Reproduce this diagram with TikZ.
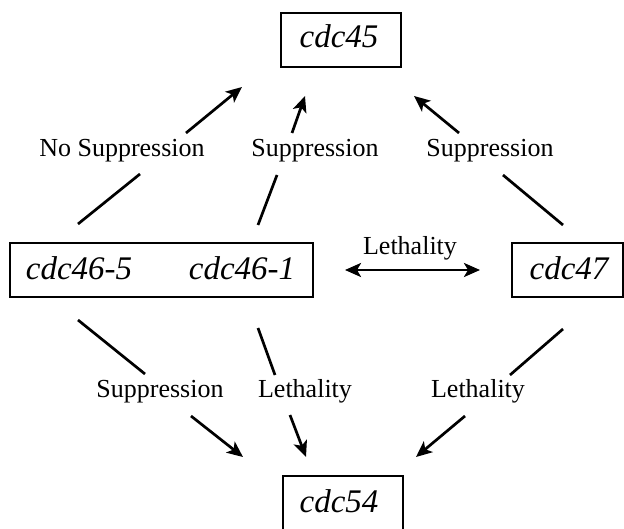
\documentclass[tikz,border=0pt]{standalone}
\usepackage{fontspec}
\setmainfont{Liberation Serif}
\usetikzlibrary{arrows.meta}
\begin{document}
\begin{tikzpicture}[x=1pt,y=-1pt,
  box/.style={draw,line width=1.5pt,inner sep=0pt,anchor=center},
  gene/.style={font=\fontsize{33}{36}\selectfont\itshape,inner sep=0pt,anchor=base},
  lab/.style={font=\fontsize{26}{30}\selectfont,inner sep=0pt,anchor=base},
  ln/.style={line width=2.7pt},
  arr/.style={line width=2.7pt,-{Stealth[length=16pt,width=14pt,inset=4pt]}},
  darr/.style={line width=2.7pt,{Stealth[length=16pt,width=14pt,inset=4pt]}-{Stealth[length=16pt,width=14pt,inset=4pt]}}]
\useasboundingbox (0,0) rectangle (624,529);
% boxes
\node[box,minimum width=120pt,minimum height=54pt] (cdc45) at (341,40) {};
\node[gene] (t45) at (339,48) {cdc45};
\node[box,minimum width=303pt,minimum height=54pt] (cdc46) at (161.5,270) {};
\node[gene] (t465) at (79,280) {cdc46-5};
\node[gene] (t461) at (242,280) {cdc46-1};
\node[box,minimum width=111pt,minimum height=54pt] (cdc47) at (567.5,270) {};
\node[gene] (t47) at (569,280) {cdc47};
\node[box,minimum width=120pt,minimum height=60pt] (cdc54) at (343,506) {};
\node[gene] (t54) at (339,512) {cdc54};
% labels
\node[lab] (l1) at (122,157) {No Suppression};
\node[lab] (l2) at (315,157) {Suppression};
\node[lab] (l3) at (490,157) {Suppression};
\node[lab] (l4) at (160,397) {Suppression};
\node[lab] (l5) at (305,397) {Lethality};
\node[lab] (l6) at (478,397) {Lethality};
\node[lab] (l7) at (410,255) {Lethality};
% coordinates
\coordinate (a1) at (78,224); \coordinate (a2) at (140,174);
\coordinate (a3) at (186,133); \coordinate (a4) at (242,87);
\coordinate (b1) at (258,225); \coordinate (b2) at (277,175);
\coordinate (b3) at (292,133); \coordinate (b4) at (305,96);
\coordinate (c1) at (563,225); \coordinate (c2) at (503,175);
\coordinate (c3) at (459,133); \coordinate (c4) at (414,96);
\coordinate (d1) at (78,320); \coordinate (d2) at (145,374);
\coordinate (d3) at (191,416); \coordinate (d4) at (243,457);
\coordinate (e1) at (258,328); \coordinate (e2) at (275,375);
\coordinate (e3) at (290,415); \coordinate (e4) at (306,457);
\coordinate (f1) at (563,329); \coordinate (f2) at (510,375);
\coordinate (f3) at (465,416); \coordinate (f4) at (416,457);
\coordinate (g1) at (345,270); \coordinate (g2) at (480,270);
% connectors
\draw[ln] (a1) -- (a2); \draw[arr] (a3) -- (a4);
\draw[ln] (b1) -- (b2); \draw[arr] (b3) -- (b4);
\draw[ln] (c1) -- (c2); \draw[arr] (c3) -- (c4);
\draw[ln] (d1) -- (d2); \draw[arr] (d3) -- (d4);
\draw[ln] (e1) -- (e2); \draw[arr] (e3) -- (e4);
\draw[ln] (f1) -- (f2); \draw[arr] (f3) -- (f4);
\draw[darr] (g1) -- (g2);
\end{tikzpicture}
\end{document}
